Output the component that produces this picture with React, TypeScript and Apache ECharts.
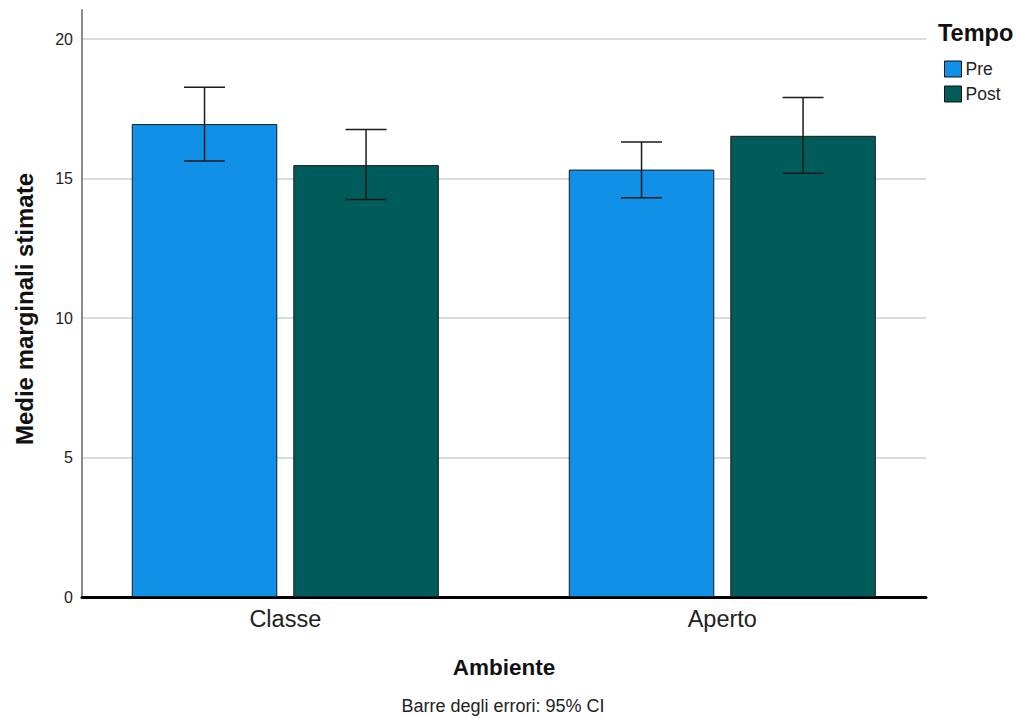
import React, { useEffect, useRef } from "react";
import * as echarts from "echarts";

// Estimated marginal means by environment and time, with 95% CI bounds
const categories = ["Classe", "Aperto"];
const seriesNames = ["Pre", "Post"];
const preMeans = [16.95, 15.32];
const postMeans = [15.48, 16.53];
const preLow = [15.63, 14.31];
const preHigh = [18.27, 16.31];
const postLow = [14.25, 15.19];
const postHigh = [16.76, 17.9];
const yTicks = [0, 5, 10, 15, 20];

const FONT = "'Liberation Sans', Arial, sans-serif";
const PRE_COLOR = "#1190e8";
const POST_COLOR = "#005c5a";
const BAR_SHARE = 0.333; // bar width as a share of the category band
const BAR_GAP = 0.11; // gap between paired bars, relative to bar width
const Y_MAX = 21.04;

function errorBarSeries(name: string, low: number[], high: number[], side: number) {
  return {
    type: "custom",
    name: name + " CI",
    xAxisIndex: 0,
    yAxisIndex: 0,
    z: 5,
    silent: true,
    data: categories.map((_, i) => [i, low[i], high[i]]),
    renderItem: (params: any, api: any) => {
      const band = api.size([1, 0])[0];
      const offset = (side * band * BAR_SHARE * (1 + BAR_GAP)) / 2;
      const lo = api.coord([api.value(0), api.value(1)]);
      const hi = api.coord([api.value(0), api.value(2)]);
      const x = lo[0] + offset;
      const cap = 20.5;
      const style = { stroke: "#1a1a1a", lineWidth: 1.5 };
      return {
        type: "group",
        children: [
          { type: "line", shape: { x1: x, y1: lo[1], x2: x, y2: hi[1] }, style },
          { type: "line", shape: { x1: x - cap, y1: hi[1], x2: x + cap, y2: hi[1] }, style },
          { type: "line", shape: { x1: x - cap, y1: lo[1], x2: x + cap, y2: lo[1] }, style },
        ],
      };
    },
  };
}

export default function App() {
  const ref = useRef<HTMLDivElement>(null);

  useEffect(() => {
    if (!ref.current) return;
    const chart = echarts.init(ref.current, null, { renderer: "svg" });
    const barStyle = { borderColor: "#1a1a1a", borderWidth: 1 };
    chart.setOption({
      animation: false,
      backgroundColor: "#ffffff",
      textStyle: { fontFamily: FONT },
      title: [
        {
          text: "Tempo",
          left: 933,
          top: 16,
          textStyle: { fontFamily: FONT, fontSize: 23.5, fontWeight: "bold", color: "#111" },
        },
      ],
      legend: {
        data: seriesNames,
        orient: "vertical",
        left: 939,
        top: 55,
        icon: "rect",
        itemWidth: 17,
        itemHeight: 16,
        itemGap: 7,
        selectedMode: false,
        itemStyle: { borderColor: "#111", borderWidth: 1 },
        textStyle: { fontFamily: FONT, fontSize: 17.5, color: "#222", padding: [0, 0, 0, -1] },
      },
      grid: [
        // band grid holding the bars and the category labels
        { left: 66.8, right: 75.2, top: 10, bottom: 121 },
        // value grid holding the gridlines and the y axis
        { left: 82, right: 90, top: 10, bottom: 121 },
      ],
      xAxis: [
        {
          type: "category",
          gridIndex: 0,
          data: categories,
          axisLine: { show: false },
          axisTick: { show: false },
          axisLabel: { fontFamily: FONT, fontSize: 23.5, color: "#222", margin: 10 },
        },
        {
          type: "value",
          gridIndex: 1,
          min: 0,
          max: 1,
          axisLine: { show: true, onZero: false, lineStyle: { color: "#000", width: 3 } },
          axisTick: { show: false },
          axisLabel: { show: false },
          splitLine: { show: false },
        },
      ],
      yAxis: [
        {
          type: "value",
          gridIndex: 0,
          min: 0,
          max: Y_MAX,
          show: false,
          splitLine: { show: false },
        },
        {
          type: "value",
          gridIndex: 1,
          min: 0,
          max: Y_MAX,
          interval: 5,
          axisLine: { show: true, onZero: false, lineStyle: { color: "#8c8c8c", width: 2 } },
          axisTick: { show: false },
          axisLabel: {
            fontFamily: FONT,
            fontSize: 16,
            color: "#222",
            margin: 9,
            showMaxLabel: false,
            formatter: (v: number) => (yTicks.includes(v) ? String(v) : ""),
          },
          splitLine: {
            show: true,
            showMinLine: false,
            showMaxLine: false,
            lineStyle: { color: "#cfcfcf", width: 1.5 },
          },
        },
      ],
      graphic: [
        {
          type: "text",
          x: 24,
          y: 309,
          rotation: Math.PI / 2,
          style: {
            text: "Medie marginali stimate",
            font: `bold 24px ${FONT}`,
            fill: "#111",
            align: "center",
            verticalAlign: "middle",
          },
        },
        {
          type: "text",
          x: 504,
          y: 667,
          style: {
            text: "Ambiente",
            font: `bold 22.5px ${FONT}`,
            fill: "#111",
            align: "center",
            verticalAlign: "middle",
          },
        },
        {
          type: "text",
          x: 503,
          y: 706,
          style: {
            text: "Barre degli errori: 95% CI",
            font: `18px ${FONT}`,
            fill: "#222",
            align: "center",
            verticalAlign: "middle",
          },
        },
      ],
      series: [
        {
          type: "bar",
          name: seriesNames[0],
          xAxisIndex: 0,
          yAxisIndex: 0,
          data: preMeans,
          barWidth: `${BAR_SHARE * 100}%`,
          barGap: `${BAR_GAP * 100}%`,
          itemStyle: { color: PRE_COLOR, ...barStyle },
          z: 3,
        },
        {
          type: "bar",
          name: seriesNames[1],
          xAxisIndex: 0,
          yAxisIndex: 0,
          data: postMeans,
          barWidth: `${BAR_SHARE * 100}%`,
          barGap: `${BAR_GAP * 100}%`,
          itemStyle: { color: POST_COLOR, ...barStyle },
          z: 3,
        },
        errorBarSeries("Pre", preLow, preHigh, -1),
        errorBarSeries("Post", postLow, postHigh, 1),
      ],
    });
    return () => chart.dispose();
  }, []);

  return (
    <div
      ref={ref}
      style={{ position: "fixed", left: 0, top: 0, width: 1016, height: 718, background: "#fff" }}
    />
  );
}
